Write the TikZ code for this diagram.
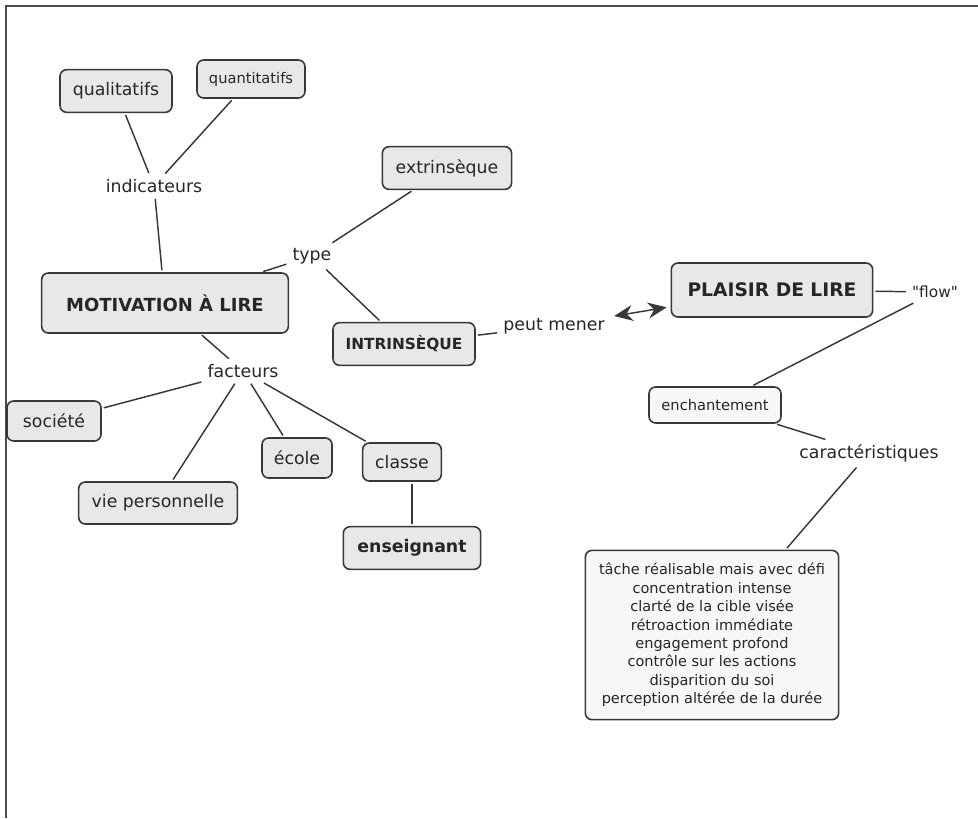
\documentclass[tikz,border=0pt]{standalone}
\usepackage{fontspec}
\setmainfont{DejaVu Sans}
% same family without the TeX ligature mapping, so " stays a straight quote
\newfontfamily\plainquotes{DejaVu Sans}
\usetikzlibrary{arrows.meta,calc}

\tikzset{
  concept/.style={draw=black!78, line width=1.2pt, rounded corners=5pt, fill=black!9,
    inner sep=0pt, align=center, text=black!85, font=\fontsize{13}{16}\selectfont},
  lightconcept/.style={concept, fill=black!3},
  phrase/.style={inner sep=3pt, text=black!85, font=\fontsize{13}{16}\selectfont},
  link/.style={draw=black!78, line width=1.1pt, shorten <=1.5pt, shorten >=1.5pt},
  bothtips/.style={{Stealth[length=14pt,width=12pt]}-{Stealth[length=14pt,width=12pt]}},
}

\begin{document}
\begin{tikzpicture}[x=0.75pt,y=-0.75pt]
  \useasboundingbox (0,0) rectangle (978,818);
  % page frame (top and left edges)
  \draw[black!70, line width=1.5pt] (978,6) -- (6,6) -- (6,818);

  % indicators branch
  \node[concept, minimum width=84pt, minimum height=32pt] (qual) at (116,91) {qualitatifs};
  \node[concept, minimum width=81pt, minimum height=28.5pt, font=\fontsize{11}{13}\selectfont] (quant) at (251,79) {quantitatifs};
  \node[phrase] (ind) at (154,186) {indicateurs};

  % central concept
  \node[concept, minimum width=185pt, minimum height=45pt, font=\fontsize{13.5}{16}\selectfont\bfseries] (mot) at (165,303) {MOTIVATION À LIRE};

  % types of motivation
  \node[concept, minimum width=97pt, minimum height=32pt] (extr) at (447,168) {extrinsèque};
  \node[phrase] (type) at (312,256) {type};
  \node[concept, minimum width=106.5pt, minimum height=32pt, font=\fontsize{11.5}{14}\selectfont\bfseries] (intr) at (404,344) {INTRINSÈQUE};
  \node[phrase] (mener) at (554,326) {peut mener};

  % reading pleasure
  \node[concept, minimum width=151pt, minimum height=40.5pt, font=\fontsize{14}{16}\selectfont\bfseries] (plaisir) at (772,290) {PLAISIR DE LIRE};
  \node[phrase, font=\plainquotes\fontsize{11.5}{14}\selectfont] (flow) at (935,292) {"flow"};
  \node[lightconcept, minimum width=99pt, minimum height=27pt, font=\fontsize{11}{13}\selectfont] (ench) at (715,405) {enchantement};
  \node[phrase] (car) at (869,453) {caractéristiques};
  \node[lightconcept, minimum width=190pt, minimum height=127pt, font=\fontsize{10.9}{13.8}\selectfont] (liste) at (712,635)
    {tâche réalisable mais avec défi\\concentration intense\\clarté de la cible visée\\rétroaction immédiate\\engagement profond\\contrôle sur les actions\\disparition du soi\\perception altérée de la durée};

  % factors
  \node[phrase] (fact) at (243,371) {facteurs};
  \node[concept, minimum width=70.5pt, minimum height=30pt] (soc) at (54,421) {société};
  \node[concept, minimum width=119pt, minimum height=31.5pt] (vie) at (158,503) {vie personnelle};
  \node[concept, minimum width=52.5pt, minimum height=30pt] (ecole) at (297,458) {école};
  \node[concept, minimum width=59pt, minimum height=28.5pt] (classe) at (402,462) {classe};
  \node[concept, minimum width=103pt, minimum height=32pt, font=\fontsize{13}{16}\selectfont\bfseries] (ens) at (412,548) {enseignant};

  % connectors
  \draw[link] (qual) -- (ind);
  \draw[link] (quant) -- (ind);
  \draw[link] (ind) -- (mot);
  \draw[link] (mot) -- (type);
  \draw[link] (type) -- (extr);
  \draw[link] (type) -- (intr);
  \draw[link] (intr) -- (mener);
  \draw[link, bothtips, shorten <=4pt, shorten >=3pt] (mener) -- (plaisir);
  \draw[link] (plaisir) -- (flow);
  \draw[link] (flow) -- (ench);
  \draw[link] (ench) -- (car);
  \draw[link] (car) -- (liste);
  \draw[link] (mot) -- (fact);
  \draw[link] (fact) -- (soc);
  \draw[link] (fact) -- (vie);
  \draw[link] (fact) -- (ecole);
  \draw[link] (fact) -- (classe);
  \draw[link] (classe.south -| ens.north) -- (ens.north);
\end{tikzpicture}
\end{document}
